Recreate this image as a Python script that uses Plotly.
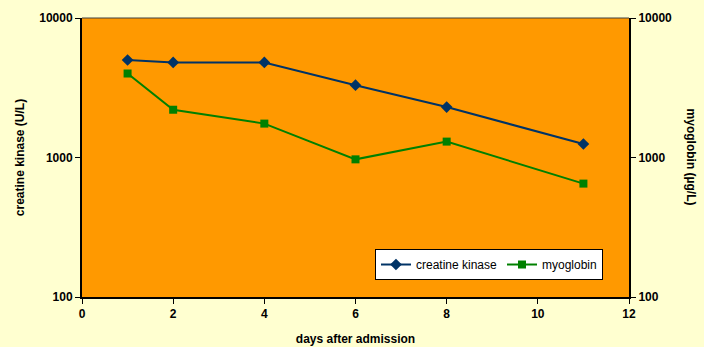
import plotly.graph_objects as go

days = [1, 2, 4, 6, 8, 11]
creatine_kinase = [5000, 4800, 4800, 3300, 2300, 1250]
myoglobin = [4000, 2200, 1750, 970, 1300, 650]
y_ticks = [100, 1000, 10000]
y_ticktext = ["100", "1000", "10000"]
x_ticks = [0, 2, 4, 6, 8, 10, 12]

FONT = "Liberation Sans, Arial, sans-serif"

fig = go.Figure()
fig.add_trace(go.Scatter(
    x=days, y=creatine_kinase, name="creatine kinase", mode="lines+markers",
    line=dict(color="#003366", width=2),
    marker=dict(symbol="diamond", size=9, color="#003366"),
))
fig.add_trace(go.Scatter(
    x=days, y=myoglobin, name="myoglobin", mode="lines+markers", yaxis="y2",
    line=dict(color="#008000", width=2),
    marker=dict(symbol="square", size=8, color="#008000"),
))

title_font = dict(family=FONT, size=12, color="#000000")
tick_font = dict(family=FONT, size=12, color="#000000", weight="bold")

fig.update_layout(
    width=704, height=347,
    margin=dict(l=82, r=75, t=18, b=50),
    paper_bgcolor="#FFFFD0",
    plot_bgcolor="#FF9900",
    font=dict(family=FONT, size=11, color="#000000"),
    showlegend=True,
    legend=dict(
        orientation="h", x=0.5356, y=0.172, xanchor="left", yanchor="top",
        bgcolor="#FFFFFF", bordercolor="#000000", borderwidth=1,
        font=dict(family=FONT, size=12, color="#000000"),
        itemwidth=30, tracegroupgap=0,
    ),
    xaxis=dict(
        range=[0, 12], tickvals=x_ticks, showgrid=False, zeroline=False,
        showline=True, linecolor="#000000", linewidth=2, mirror=False,
        ticks="outside", ticklen=5, tickcolor="#000000", tickwidth=1,
        tickfont=tick_font, automargin=False,
        title=dict(text="<b>days after admission</b>", font=title_font, standoff=14),
    ),
    yaxis=dict(
        type="log", range=[2, 4], tickvals=y_ticks, ticktext=y_ticktext,
        showgrid=False, zeroline=False, showline=True, linecolor="#000000",
        linewidth=2, ticks="outside", ticklen=5, tickcolor="#000000",
        tickfont=tick_font, automargin=False,
        title=dict(text="<b>creatine kinase (U/L)</b>", font=title_font, standoff=12),
    ),
    yaxis2=dict(
        type="log", range=[2, 4], tickvals=y_ticks, ticktext=y_ticktext,
        overlaying="y", side="right", showgrid=False, zeroline=False,
        showline=True, linecolor="#000000", linewidth=2, ticks="outside",
        ticklen=5, tickcolor="#000000", tickfont=tick_font, automargin=False,
    ),
    shapes=[dict(type="line", xref="paper", yref="paper", x0=0, x1=1, y0=1, y1=1,
                 line=dict(color="#404040", width=1))],
    annotations=[dict(
        text="<b>myoglobin (µg/L)</b>", xref="paper", yref="paper",
        x=1.115, y=0.5, textangle=90, showarrow=False,
        font=title_font, xanchor="center", yanchor="middle",
    )],
)

fig.write_html(
    "out.html",
    config={"displayModeBar": False},
    post_script="document.body.style.margin='0px';document.body.style.background='#FFFFD0';",
)
